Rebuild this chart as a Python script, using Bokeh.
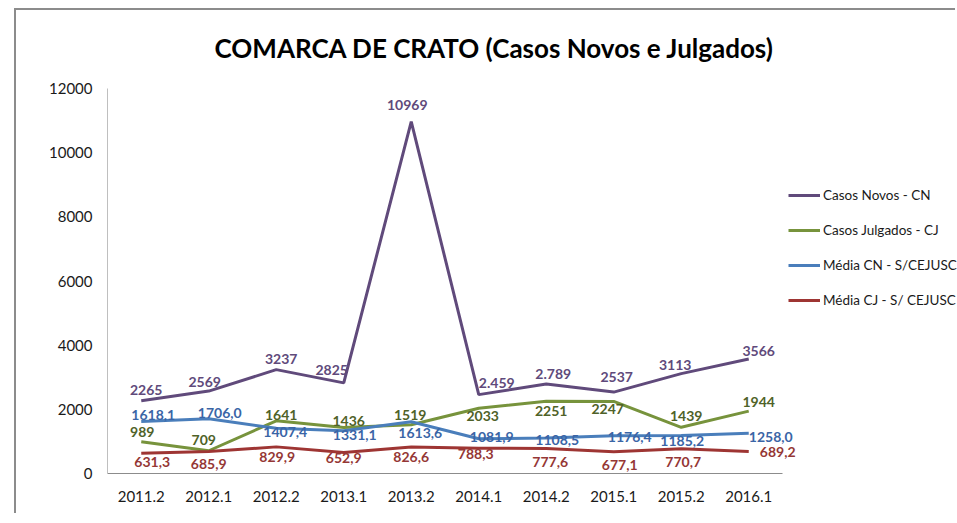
from bokeh.plotting import figure
from bokeh.models import (ColumnDataSource, LabelSet, Label, Legend, LegendItem,
                          Range1d, FixedTicker)
from bokeh.core.properties import value
from bokeh.embed import file_html
from bokeh.resources import INLINE

# ---- data ----
categories = ["2011.2", "2012.1", "2012.2", "2013.1", "2013.2",
              "2014.1", "2014.2", "2015.1", "2015.2", "2016.1"]

casos_novos = [2265, 2569, 3237, 2825, 10969, 2459, 2789, 2537, 3113, 3566]
casos_novos_labels = ["2265", "2569", "3237", "2825", "10969",
                      "2.459", "2.789", "2537", "3113", "3566"]

casos_julgados = [989, 709, 1641, 1436, 1519, 2033, 2251, 2247, 1439, 1944]
casos_julgados_labels = ["989", "709", "1641", "1436", "1519",
                         "2033", "2251", "2247", "1439", "1944"]

media_cn = [1618.1, 1706.0, 1407.4, 1331.1, 1613.6, 1081.9, 1108.5, 1176.4, 1185.2, 1258.0]
media_cn_labels = ["1618,1", "1706,0", "1407,4", "1331,1", "1613,6",
                   "1081,9", "1108,5", "1176,4", "1185,2", "1258,0"]

media_cj = [631.3, 685.9, 829.9, 652.9, 826.6, 788.3, 777.6, 677.1, 770.7, 689.2]
media_cj_labels = ["631,3", "685,9", "829,9", "652,9", "826,6",
                   "788,3", "777,6", "677,1", "770,7", "689,2"]

y_ticks = [0, 2000, 4000, 6000, 8000, 10000, 12000]

series_names = ["Casos Novos - CN", "Casos Julgados - CJ",
                "Média CN - S/CEJUSC", "Média CJ - S/ CEJUSC"]

title_text = "COMARCA DE CRATO (Casos Novos e Julgados)"

# ---- styling (label offsets in screen pixels, positive dy = up) ----
cn_dx = [5, -4, 5, -12, -4, 18, 7, 3, -6, 10]
cn_dy = [11, 9, 11, 13, 17, 12, 10, 15, 9, 8]
cj_dx = [1, -5, 5, 5, -1, 4, 5, -6, 5, 10]
cj_dy = [10, 11, 6, 6, 10, -8, -10, -8, 11, 9]
mcn_dx = [12, 11, 9, 11, 9, 13, 11, 16, 1, 22]
mcn_dy = [7, 6, -4, -4, -11, 2, -2, -1, -6, -4]
mcj_dx = [11, 0, 1, 0, 0, -3, 4, 6, 2, 29]
mcj_dy = [-9, -13, -10, -5, -10, -6, -13, -13, -13, -1]

line_colors = ["#604A7B", "#77933C", "#4A7EBB", "#9E3533"]
text_colors = ["#604A7B", "#4F6228", "#3A65A6", "#953735"]

FONT = "Lato"

xs = list(range(len(categories)))

# frame covers the canvas to the right and top so that title/legend/labels are not clipped;
# axis lines are limited with bounds to the data area
p = figure(x_range=Range1d(-0.5, 12.0926),
           y_range=Range1d(0, 14431.2),
           width=941, height=505,
           output_backend="svg", toolbar_location=None,
           min_border_left=91, min_border_right=0,
           min_border_top=0, min_border_bottom=42)
p.styles = {"margin-left": "14px", "margin-top": "8px",
            "border-left": "2px solid #8c8c8c",
            "border-top": "2px solid #8c8c8c"}

p.xgrid.visible = False
p.ygrid.visible = False
p.outline_line_color = None
p.background_fill_color = "white"
p.border_fill_color = "white"

p.yaxis.bounds = (0, 12000)
p.yaxis.ticker = FixedTicker(ticks=y_ticks)
p.yaxis.major_tick_in = 0
p.yaxis.major_tick_out = 0
p.yaxis.minor_tick_in = 0
p.yaxis.minor_tick_out = 0
p.yaxis.axis_line_color = "#bfbfbf"
p.yaxis.major_label_standoff = 15
p.yaxis.major_label_text_font = FONT
p.yaxis.major_label_text_font_size = "15px"
p.yaxis.major_label_text_color = "#1a1a1a"

p.xaxis.bounds = (-0.5, len(categories) - 0.5)
p.xaxis.ticker = FixedTicker(ticks=xs)
p.xaxis.major_label_overrides = {i: c for i, c in zip(xs, categories)}
p.xaxis.major_tick_in = 0
p.xaxis.major_tick_out = 0
p.xaxis.minor_tick_in = 0
p.xaxis.minor_tick_out = 0
p.xaxis.axis_line_color = "#8c8c8c"
p.xaxis.major_label_standoff = 17
p.xaxis.major_label_text_font = FONT
p.xaxis.major_label_text_font_size = "15px"
p.xaxis.major_label_text_color = "#1a1a1a"

all_values = [casos_novos, casos_julgados, media_cn, media_cj]
all_labels = [casos_novos_labels, casos_julgados_labels, media_cn_labels, media_cj_labels]
all_dx = [cn_dx, cj_dx, mcn_dx, mcj_dx]
all_dy = [cn_dy, cj_dy, mcn_dy, mcj_dy]

items = []
for name, vals, labs, dx, dy, lc, tc in zip(series_names, all_values, all_labels,
                                           all_dx, all_dy, line_colors, text_colors):
    src = ColumnDataSource(dict(x=xs, y=vals, t=labs, dx=dx, dy=dy))
    r = p.line("x", "y", source=src, line_color=lc, line_width=3)
    items.append(LegendItem(label=name, renderers=[r]))
    ls = LabelSet(x="x", y="y", text="t", source=src,
                  x_offset="dx", y_offset="dy",
                  text_align="center", text_baseline="middle",
                  text_font=value(FONT), text_font_style="bold",
                  text_font_size="14px", text_color=tc)
    p.add_layout(ls)

legend = Legend(items=items, location=(681, 163), orientation="vertical",
                padding=0, margin=0, spacing=15,
                glyph_height=20, glyph_width=32,
                label_height=20, label_standoff=3,
                border_line_color=None, background_fill_alpha=0,
                label_text_font=FONT, label_text_font_size="13.5px",
                label_text_color="#1a1a1a")
p.add_layout(legend)

title = Label(x=387, y=426, x_units="screen", y_units="screen",
              text=title_text,
              text_align="center", text_baseline="middle",
              text_font=FONT, text_font_style="bold",
              text_font_size="26px", text_color="#000000")
p.add_layout(title)

open("out.html", "w").write(file_html(p, INLINE))
